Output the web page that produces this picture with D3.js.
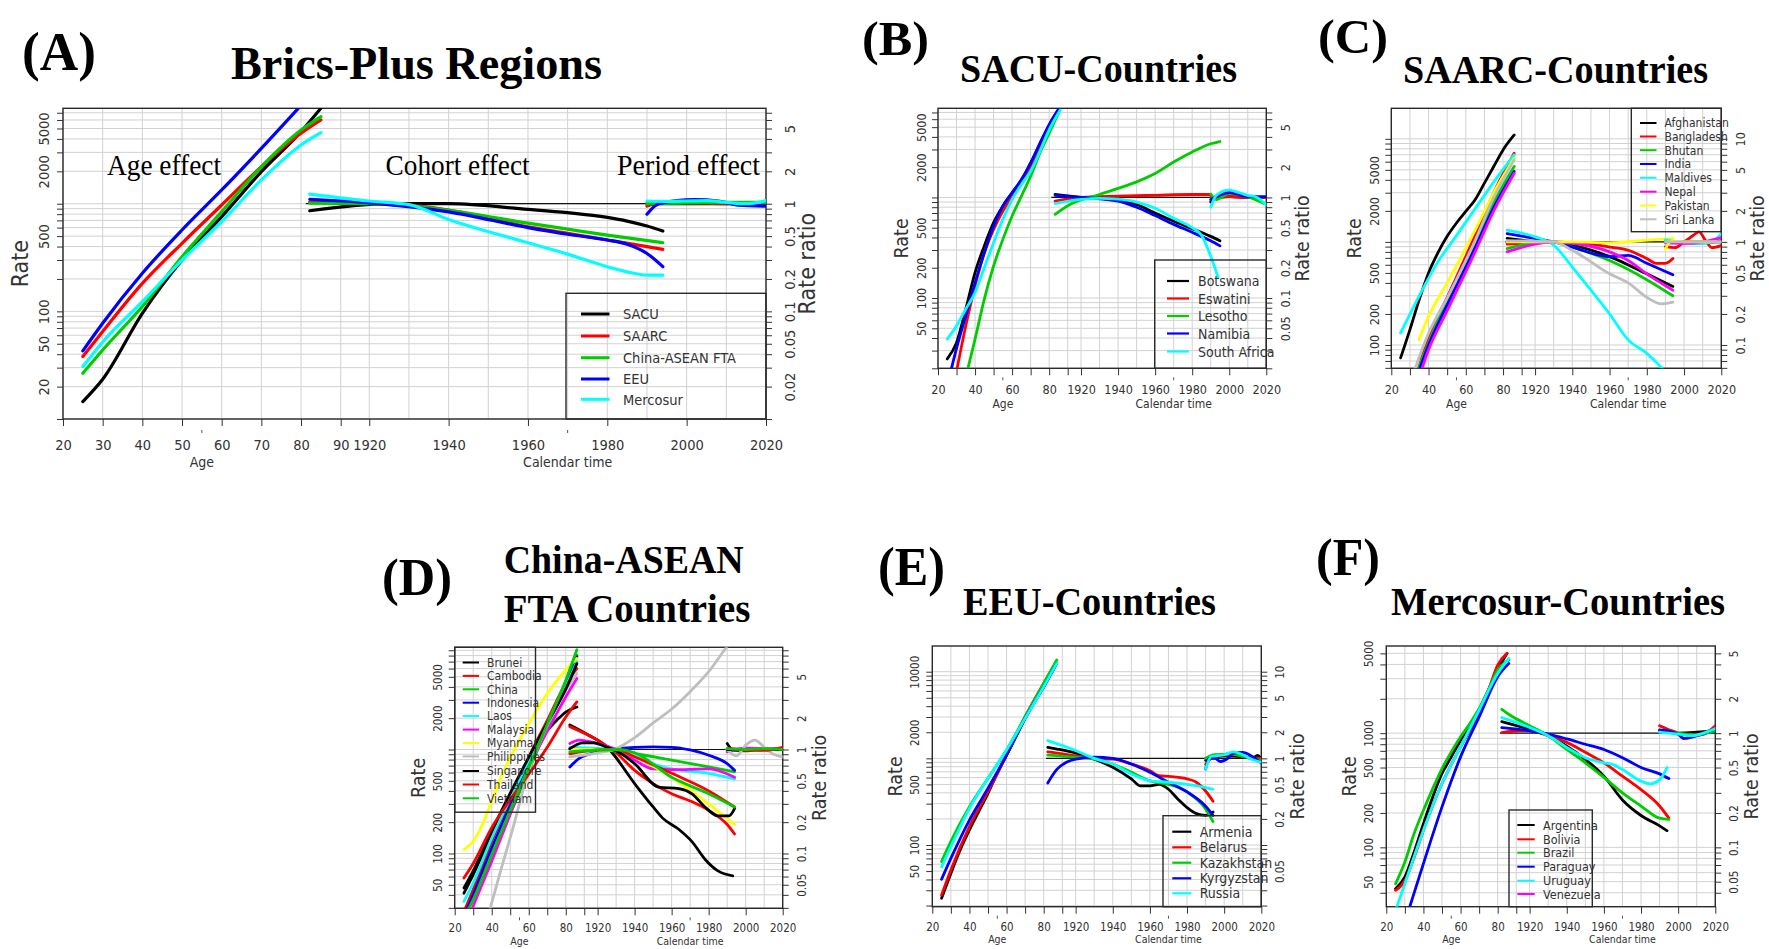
<!DOCTYPE html>
<html><head><meta charset="utf-8">
<script src="https://cdn.jsdelivr.net/npm/d3@7"></script>
<style>
html,body{margin:0;padding:0;background:#fff;}
svg{display:block;}
</style></head><body>
<svg id="chart" width="1769" height="949"></svg>
<script>
// ---------------- DATA ----------------
const CAL_OFFSET = 1822.8;           // calendar year -> shared x unit
const RATIO_DIV = 1000;               // rate ratio = rate / 1000 on right axis

const calTicks = [1920, 1940, 1960, 1980, 2000, 2020];
const ageTicks = [20, 30, 40, 50, 60, 70, 80, 90];
const ageLabelsAll = [20, 30, 40, 50, 60, 70, 80, 90];
const ageLabelsEven = [20, 40, 60, 80];

// (A) Brics-Plus Regions
const A_names = ["SACU", "SAARC", "China-ASEAN FTA", "EEU", "Mercosur"];
const A_age = [
  [[25,14.5],[30,23.4],[40,96],[50,300],[60,759],[70,1986],[80,4670],[85,7700]],
  [[25,38],[30,65],[40,182],[50,429],[60,973],[70,2209],[80,4510],[85,6000]],
  [[25,26.6],[30,43.8],[40,111],[50,322],[60,844],[70,2209],[80,4840],[85,6440]],
  [[25,42.9],[30,77.5],[40,226],[50,570],[60,1342],[70,3270],[80,8200]],
  [[25,30.7],[30,52],[40,123],[50,300],[60,682],[70,1663],[80,3515],[85,4570]]
];
const A_cohort = [
  [[1905,0.86],[1915,0.95],[1925,1.0],[1940,1.0],[1960,0.886],[1970,0.825],[1980,0.746],[1985,0.69],[1990,0.62],[1994,0.557]],
  [[1905,1.04],[1925,1.0],[1940,0.873],[1960,0.61],[1970,0.53],[1980,0.46],[1990,0.40],[1994,0.377]],
  [[1905,1.01],[1920,1.0],[1940,0.87],[1960,0.66],[1970,0.58],[1980,0.51],[1994,0.434]],
  [[1905,1.1],[1920,1.02],[1940,0.84],[1960,0.60],[1970,0.52],[1980,0.46],[1985,0.42],[1990,0.345],[1994,0.26]],
  [[1905,1.23],[1920,1.06],[1930,0.98],[1940,0.715],[1960,0.434],[1970,0.34],[1980,0.26],[1985,0.233],[1990,0.217],[1994,0.217]]
];
const A_period = [
  [[1990,1.0],[2005,1.0],[2020,1.0]],
  [[1990,0.95],[1992,1.0],[2000,1.02],[2010,1.0],[2020,1.0]],
  [[1990,1.0],[2000,1.02],[2010,1.03],[2020,1.03]],
  [[1990,0.8],[1993,1.0],[2002,1.09],[2008,1.06],[2013,0.97],[2020,0.95]],
  [[1990,1.06],[1995,1.05],[2000,1.06],[2005,1.07],[2010,1.03],[2015,1.0],[2020,1.07]]
];
const A_leftLabels = [20, 50, 100, 500, 2000, 5000];
const A_rightLabels = [0.02, 0.05, 0.1, 0.2, 0.5, 1, 2, 5];

// (B) SACU-Countries
const B_names = ["Botswana", "Eswatini", "Lesotho", "Namibia", "South Africa"];
const B_age = [
  [[25,24.8],[30,36],[35,77.6],[40,179],[45,330],[50,561],[55,820],[60,1112],[65,1482],[70,2200],[75,3342],[80,5270],[86,8000]],
  [[29,15],[35,53],[40,132],[45,282],[50,482],[55,731],[60,1030],[65,1395],[70,2040],[75,3096],[80,4886],[85,7400]],
  [[34.5,15],[40,39],[45,97.6],[50,208],[55,383],[60,653],[65,1030],[70,1624],[75,2765],[80,4360],[85,6880]],
  [[26,16],[30,31.5],[35,66.7],[40,142],[45,282],[50,520],[55,820],[60,1112],[65,1505],[70,2200],[75,3475],[80,5270],[86,8000]],
  [[25,39],[30,53],[35,77.6],[40,113],[45,201],[50,355],[55,605],[60,954],[65,1343],[70,1820],[75,2870],[80,4700],[86,7400]]
];
const B_cohort = [
  [[1906,1.07],[1920,1.0],[1940,0.94],[1950,0.85],[1960,0.7],[1970,0.58],[1980,0.49],[1990,0.41],[1995,0.37]],
  [[1906,0.92],[1920,1.0],[1940,1.03],[1960,1.05],[1980,1.07],[1990,1.07]],
  [[1906,0.68],[1915,0.87],[1930,1.07],[1940,1.23],[1950,1.43],[1960,1.73],[1970,2.25],[1980,2.83],[1990,3.42],[1995,3.6]],
  [[1906,1.05],[1920,1.0],[1940,0.92],[1950,0.8],[1960,0.66],[1970,0.54],[1980,0.45],[1990,0.37],[1995,0.33]],
  [[1906,0.87],[1920,0.955],[1930,0.98],[1940,0.96],[1950,0.9],[1960,0.78],[1970,0.62],[1980,0.5],[1985,0.42],[1990,0.26],[1994,0.16]]
];
const B_period = [
  [[1990,0.9],[1992,0.97],[2000,1.02],[2010,1.0],[2020,1.0]],
  [[1990,1.0],[2000,1.02],[2010,1.0],[2020,1.0]],
  [[1990,1.08],[1993,0.95],[2000,1.1],[2010,1.02],[2020,0.85]],
  [[1990,0.95],[2000,1.12],[2010,1.02],[2020,1.02]],
  [[1990,0.8],[1993,1.05],[2000,1.18],[2005,1.12],[2010,1.05],[2015,1.0],[2020,0.84]]
];
const B_leftLabels = [50, 100, 200, 500, 2000, 5000];
const B_rightLabels = [0.05, 0.1, 0.2, 0.5, 1, 2, 5];

// (C) SAARC-Countries
const C_names = ["Afghanistan", "Bangladesh", "Bhutan", "India", "Maldives", "Nepal", "Pakistan", "Sri Lanka"];
const C_age = [
  [[25,75],[30,141],[35,276],[40,500],[45,782],[50,1132],[55,1524],[60,1977],[65,2563],[70,3715],[75,5385],[80,7810],[86,10900]],
  [[32,40],[40,120],[50,290],[65,1150],[75,3000],[86,7250]],
  [[31,40],[40,105],[50,270],[65,980],[75,2400],[86,5385]],
  [[32,40],[40,100],[50,245],[65,880],[75,2150],[86,4815]],
  [[25,131],[35,300],[45,640],[55,1150],[65,2100],[75,3800],[86,6980]],
  [[33.5,40],[40,90],[50,215],[65,800],[75,2000],[86,4640]],
  [[34.8,112],[40,190],[50,400],[65,1300],[75,3000],[86,6480]],
  [[29.5,40],[40,130],[50,285],[65,1030],[75,2700],[86,6250]]
];
const C_cohort = [
  [[1905,1.08],[1920,1.01],[1930,1.0],[1940,0.93],[1960,0.72],[1980,0.49],[1994,0.37]],
  [[1905,0.95],[1920,0.98],[1930,1.0],[1940,0.98],[1950,0.95],[1960,0.89],[1970,0.83],[1980,0.69],[1985,0.62],[1990,0.62],[1994,0.69]],
  [[1905,0.86],[1920,0.98],[1930,1.0],[1940,0.89],[1960,0.66],[1980,0.43],[1994,0.30]],
  [[1905,1.2],[1920,1.08],[1930,1.0],[1940,0.89],[1960,0.72],[1970,0.74],[1980,0.62],[1994,0.48]],
  [[1905,1.30],[1920,1.12],[1930,0.93],[1940,0.57],[1950,0.34],[1960,0.20],[1970,0.112],[1980,0.083],[1988,0.06],[1994,0.045]],
  [[1905,0.80],[1920,0.95],[1930,1.0],[1940,0.97],[1960,0.80],[1970,0.66],[1980,0.49],[1994,0.34]],
  [[1905,1.0],[1940,1.0],[1960,0.98],[1980,1.04],[1994,1.08]],
  [[1905,1.03],[1930,1.0],[1940,0.83],[1960,0.49],[1970,0.40],[1980,0.29],[1988,0.25],[1994,0.26]]
];
const C_period = [
  [[1990,1.0],[2005,1.0],[2020,1.0]],
  [[1990,0.9],[1995,0.88],[2000,1.0],[2005,1.16],[2008,1.25],[2012,1.0],[2015,0.88],[2020,0.92]],
  [[1990,1.0],[2005,1.0],[2020,1.0]],
  [[1990,1.0],[2005,0.97],[2020,1.02]],
  [[1990,1.05],[2000,0.98],[2010,0.97],[2015,1.0],[2020,1.2]],
  [[1990,0.98],[2000,0.97],[2010,1.0],[2020,1.1]],
  [[1990,0.85],[1993,1.02],[2000,1.0],[2020,1.0]],
  [[1990,1.0],[2005,1.0],[2020,1.0]]
];
const C_leftLabels = [100, 200, 500, 2000, 5000];
const C_rightLabels = [0.1, 0.2, 0.5, 1, 2, 5, 10];

// (D) China-ASEAN FTA Countries
const D_names = ["Brunei", "Cambodia", "China", "Indonesia", "Laos", "Malaysia", "Myanmar", "Philippines", "Singapore", "Thailand", "Vietnam"];
const D_age = [
  [[25,41.5],[30,62.5],[35,97.6],[40,152],[45,221],[50,345],[55,539],[60,782],[65,1132],[70,1524],[75,1905],[80,2290],[86,2563]],
  [[24,25],[30,45],[40,131],[50,330],[60,841],[70,1900],[80,4300],[86,6000]],
  [[26,25],[30,38],[40,90],[50,240],[60,625],[70,1650],[80,4300],[86,8100]],
  [[25,25],[30,40],[40,112],[50,290],[60,724],[70,1750],[80,4010],[86,7810]],
  [[25,34.6],[30,52],[40,141],[50,340],[60,782],[70,1800],[80,4010],[86,7000]],
  [[28,25],[30,31],[40,84],[50,240],[60,673],[70,1500],[80,3200],[86,4815]],
  [[25,109],[30,131],[35,190],[40,320],[45,539],[50,841],[60,1767],[70,3450],[80,5810],[86,7520]],
  [[38,25],[45,70],[51,164],[60,625],[70,1700],[80,3700],[86,5385]],
  [[25,46.6],[30,68],[40,164],[50,380],[60,841],[70,1800],[80,3800],[86,6700]],
  [[25,58],[30,80],[40,177],[50,330],[60,580],[70,1050],[80,2050],[86,2870]],
  [[25,24],[30,36],[40,97.6],[50,260],[60,673],[70,1750],[80,4640],[86,9100]]
];
const D_cohort = [
  [[1905,1.72],[1915,1.38],[1925,1.06],[1940,0.47],[1950,0.28],[1955,0.22],[1964,0.17],[1971,0.13],[1978,0.088],[1985,0.068],[1993,0.061]],
  [[1905,1.66],[1920,1.23],[1930,0.93],[1940,0.63],[1950,0.47],[1960,0.375],[1970,0.32],[1980,0.26],[1990,0.19],[1994,0.154]],
  [[1905,1.0],[1920,1.0],[1940,0.91],[1960,0.79],[1980,0.68],[1994,0.61]],
  [[1905,0.68],[1910,0.82],[1920,0.95],[1930,1.02],[1950,1.06],[1960,1.05],[1970,0.99],[1980,0.88],[1990,0.73],[1994,0.63]],
  [[1905,1.05],[1930,1.0],[1940,0.91],[1950,0.73],[1960,0.65],[1980,0.59],[1994,0.52]],
  [[1905,1.14],[1910,1.23],[1920,1.14],[1930,1.0],[1940,0.79],[1950,0.65],[1960,0.64],[1980,0.65],[1994,0.54]],
  [[1905,1.0],[1930,1.0],[1940,0.85],[1960,0.54],[1980,0.30],[1994,0.19]],
  [[1905,0.85],[1920,0.93],[1930,1.02],[1940,1.3],[1950,1.8],[1960,2.45],[1970,3.6],[1980,5.6],[1990,9.8],[1994,12]],
  [[1905,1.02],[1912,1.16],[1918,1.16],[1925,1.05],[1930,0.97],[1940,0.73],[1953,0.435],[1964,0.42],[1971,0.375],[1978,0.28],[1985,0.23],[1991,0.23],[1994,0.27]],
  [[1905,0.91],[1920,0.99],[1930,1.0],[1940,0.85],[1960,0.59],[1980,0.40],[1994,0.28]],
  [[1905,0.95],[1930,1.0],[1940,0.93],[1960,0.54],[1980,0.375],[1994,0.28]]
];
const D_period = [
  [[1990,1.14],[1993,1.0],[2000,1.0],[2020,1.0]],
  [[1990,1.0],[2000,0.97],[2010,1.0],[2020,1.03]],
  [[1990,1.0],[2005,1.0],[2020,1.0]],
  [[1990,0.98],[2005,1.0],[2020,1.0]],
  [[1990,1.0],[2005,1.0],[2020,1.0]],
  [[1990,0.95],[2000,1.03],[2020,1.0]],
  [[1990,1.0],[2005,1.0],[2020,1.0]],
  [[1990,1.0],[1995,0.87],[2000,1.1],[2005,1.23],[2010,1.05],[2015,0.9],[2020,0.85]],
  [[1990,1.0],[2005,1.0],[2020,1.0]],
  [[1990,1.02],[2000,1.0],[2010,0.98],[2020,1.05]],
  [[1990,1.02],[2000,1.0],[2010,1.02],[2020,1.0]]
];
const D_leftLabels = [50, 100, 200, 500, 2000, 5000];
const D_rightLabels = [0.05, 0.1, 0.2, 0.5, 1, 2, 5];

// (E) EEU-Countries
const E_names = ["Armenia", "Belarus", "Kazakhstan", "Kyrgyzstan", "Russia"];
const E_age = [
  [[25,24.3],[30,47],[35,87.5],[40,149],[45,243],[50,395],[55,671],[60,1092],[65,1778],[70,2895],[75,4508],[80,6710],[86,11430]],
  [[25,26.5],[30,51.6],[40,163],[50,412],[60,1092],[70,3030],[80,7340],[86,11950]],
  [[25,64.4],[30,110],[40,277],[50,588],[60,1248],[70,3030],[80,7340],[87,13630]],
  [[25,40.2],[30,70],[40,194],[50,451],[60,1092],[70,2895],[80,6710],[87,12480]],
  [[25,56],[30,95.6],[40,265],[50,588],[60,1248],[70,2895],[80,6710],[87,12480]]
];
const E_cohort = [
  [[1905,1.34],[1910,1.28],[1920,1.15],[1930,0.98],[1940,0.79],[1950,0.58],[1955,0.48],[1960,0.48],[1965,0.5],[1970,0.44],[1975,0.34],[1980,0.27],[1985,0.23],[1990,0.22],[1994,0.24]],
  [[1905,1.19],[1920,1.07],[1930,1.0],[1940,0.98],[1950,0.86],[1960,0.72],[1965,0.63],[1970,0.62],[1980,0.58],[1985,0.53],[1990,0.42],[1994,0.32]],
  [[1905,1.09],[1920,1.03],[1930,0.98],[1940,0.86],[1950,0.69],[1960,0.55],[1970,0.5],[1980,0.41],[1990,0.26],[1994,0.186]],
  [[1905,0.52],[1910,0.75],[1915,0.9],[1920,0.98],[1930,1.03],[1940,1.0],[1950,0.86],[1960,0.69],[1970,0.53],[1980,0.41],[1990,0.28],[1994,0.22]],
  [[1905,1.6],[1920,1.23],[1930,1.0],[1940,0.86],[1950,0.66],[1960,0.55],[1970,0.53],[1980,0.5],[1990,0.46],[1994,0.44]]
];
const E_period = [
  [[1990,0.95],[2000,1.07],[2010,1.05],[2015,1.0],[2018,1.08],[2020,1.0]],
  [[1990,0.85],[1995,1.07],[2005,1.1],[2010,1.05],[2020,1.0]],
  [[1990,1.0],[1995,1.1],[2005,1.12],[2010,1.05],[2020,0.95]],
  [[1990,0.75],[1992,1.0],[1995,1.0],[1998,0.92],[2002,1.0],[2005,1.15],[2010,1.17],[2015,1.05],[2020,0.88]],
  [[1990,0.75],[1993,1.05],[2000,1.1],[2005,1.19],[2010,1.1],[2015,0.97],[2020,0.9]]
];
const E_leftLabels = [50, 100, 500, 2000, 10000];
const E_rightLabels = [0.05, 0.2, 0.5, 1, 2, 5, 10];

// (F) Mercosur-Countries
const F_names = ["Argentina", "Bolivia", "Brazil", "Paraguay", "Uruguay", "Venezuela"];
const F_age = [
  [[25,43.4],[30,55],[35,91],[40,161],[45,276],[50,443],[55,620],[60,868],[65,1137],[70,1592],[75,2385],[80,3570],[85,5000]],
  [[25,42],[30,51],[35,82],[40,141],[50,362],[60,759],[70,1538],[75,2385],[80,3950],[85,5000]],
  [[25,48],[30,74.5],[35,132],[40,211],[45,327],[50,490],[55,686],[60,929],[65,1216],[70,1648],[75,2385],[80,3570],[86,4370]],
  [[32,28],[40,72],[50,226],[60,620],[70,1390],[80,3120],[86,4085]],
  [[25,28],[30,48],[40,141],[50,362],[60,759],[70,1592],[80,3330],[86,4520]],
  []
];
const F_cohort = [
  [[1905,1.26],[1910,1.2],[1920,1.08],[1930,0.95],[1940,0.77],[1950,0.59],[1960,0.42],[1970,0.26],[1980,0.19],[1990,0.154],[1994,0.14]],
  [[1905,1.01],[1915,1.05],[1920,1.05],[1930,0.95],[1940,0.83],[1950,0.68],[1960,0.55],[1970,0.42],[1980,0.32],[1990,0.23],[1995,0.18]],
  [[1905,1.62],[1910,1.42],[1920,1.16],[1930,0.95],[1940,0.72],[1950,0.55],[1960,0.41],[1970,0.30],[1980,0.23],[1990,0.18],[1995,0.176]],
  [[1905,1.12],[1920,1.05],[1930,0.98],[1940,0.89],[1950,0.80],[1960,0.72],[1970,0.61],[1980,0.5],[1990,0.44],[1995,0.40]],
  [[1905,1.37],[1920,1.12],[1930,0.95],[1940,0.75],[1950,0.61],[1960,0.55],[1965,0.53],[1970,0.48],[1980,0.38],[1985,0.36],[1990,0.39],[1994,0.5]],
  []
];
const F_period = [
  [[1990,1.05],[2000,1.0],[2020,1.05]],
  [[1990,1.16],[1995,1.07],[2000,1.0],[2003,0.9],[2010,0.95],[2015,1.0],[2020,1.16]],
  [[1990,1.05],[2000,1.0],[2010,0.97],[2020,1.05]],
  [[1990,1.07],[2000,0.98],[2003,0.9],[2010,0.95],[2015,1.02],[2020,1.1]],
  [[1990,1.02],[1995,1.0],[2000,0.98],[2008,0.95],[2015,1.02],[2020,1.1]],
  []
];
const F_leftLabels = [50, 100, 200, 500, 1000, 5000];
const F_rightLabels = [0.05, 0.1, 0.2, 0.5, 1, 2, 5];

// ---------------- STYLE / LAYOUT ----------------
const RPAL = ["#000000","#FF0000","#00CD00","#0000FF","#00FFFF","#FF00FF","#FFFF00","#BEBEBE"];
const SANS = '"Liberation Sans Narrow","Arial Narrow","DejaVu Sans Condensed","Liberation Sans",Arial,sans-serif';
const SERIF = '"Liberation Serif","Times New Roman",Times,serif';

const PANELS = [
  {L:63, R:766, T:108.3, B:419, yMin:10, yMax:7700, big:true, tickFs:14.5, tickGap:26, titleGap:43, titleFs:14,
   names:A_names, age:A_age, cohort:A_cohort, period:A_period, leftLab:A_leftLabels, rightLab:A_rightLabels, ageLab:ageLabelsAll,
   tag:{t:"(A)", x:22, y:69.5, fs:55, w:74},
   titles:[{t:"Brics-Plus Regions", x:231, y:79.3, fs:46, w:371}],
   legend:{x0:566, y0:293.3, x1:766, y1:419, ys:[314,336,357.7,379,399.3], lx0:581, lx1:609.5, tx:623, fs:14.5, lw:3}},
  {L:938, R:1266.3, T:108.3, B:368.3, yMin:20, yMax:7700, tickFs:12.5, tickGap:21.5, titleGap:35, titleFs:12,
   names:B_names, age:B_age, cohort:B_cohort, period:B_period, leftLab:B_leftLabels, rightLab:B_rightLabels, ageLab:ageLabelsEven,
   tag:{t:"(B)", x:862, y:55, fs:48, w:67},
   titles:[{t:"SACU-Countries", x:960, y:81.7, fs:40, w:277}],
   legend:{x0:1154.7, y0:260, x1:1266.3, y1:368.3, ys:[281,298.5,316,333.5,351.5], lx0:1167, lx1:1189, tx:1198, fs:14, lw:2.2}},
  {L:1391.3, R:1721.3, T:108.3, B:368.3, yMin:59.4, yMax:19770, tickFs:12.5, tickGap:21.5, titleGap:35, titleFs:12,
   names:C_names, age:C_age, cohort:C_cohort, period:C_period, leftLab:C_leftLabels, rightLab:C_rightLabels, ageLab:ageLabelsEven,
   tag:{t:"(C)", x:1318, y:53, fs:48, w:70},
   titles:[{t:"SAARC-Countries", x:1403, y:83.3, fs:40, w:305}],
   legend:{x0:1631.3, y0:108.3, x1:1721.3, y1:231.7, ys:[123,136.5,150.2,164,177.8,191.7,205.5,219.3], lx0:1640, lx1:1656.5, tx:1664.5, fs:12, lw:2}},
  {L:454.7, R:782.7, T:647.3, B:908.3, yMin:29.7, yMax:9610, tickFs:11.5, tickGap:19.5, titleGap:32.5, titleFs:10.5,
   names:D_names, age:D_age, cohort:D_cohort, period:D_period, leftLab:D_leftLabels, rightLab:D_rightLabels, ageLab:ageLabelsEven,
   tag:{t:"(D)", x:382, y:595, fs:52, w:70},
   titles:[{t:"China-ASEAN", x:503.7, y:573.3, fs:40, w:240},{t:"FTA Countries", x:503.7, y:621.7, fs:40, w:246.6}],
   legend:{x0:454.7, y0:647.3, x1:535.5, y1:812.2, ys:[662.5,675.9,689.3,702.7,716.1,729.6,743,756.4,771,784.5,798.3], lx0:462.7, lx1:479, tx:487, fs:12, lw:2}},
  {L:932.3, R:1261.3, T:646, B:906.7, yMin:19.4, yMax:19800, tickFs:11.5, tickGap:20, titleGap:33, titleFs:10.5,
   names:E_names, age:E_age, cohort:E_cohort, period:E_period, leftLab:E_leftLabels, rightLab:E_rightLabels, ageLab:ageLabelsEven,
   tag:{t:"(E)", x:878, y:585, fs:54, w:67},
   titles:[{t:"EEU-Countries", x:963, y:615, fs:40, w:253}],
   legend:{x0:1163, y0:815.7, x1:1261.3, y1:906.7, ys:[831.7,847.3,862.7,878.3,893.3], lx0:1172.3, lx1:1191.3, tx:1199.7, fs:14, lw:2.2}},
  {L:1386.3, R:1715.3, T:646, B:906.7, yMin:30.2, yMax:5800, tickFs:11.5, tickGap:20, titleGap:33, titleFs:10.5,
   names:F_names, age:F_age, cohort:F_cohort, period:F_period, leftLab:F_leftLabels, rightLab:F_rightLabels, ageLab:ageLabelsEven,
   tag:{t:"(F)", x:1316, y:575, fs:53, w:64},
   titles:[{t:"Mercosur-Countries", x:1391, y:615, fs:40, w:334}],
   legend:{x0:1509, y0:810, x1:1592.3, y1:906.7, ys:[825,839.3,852.7,866.7,880.7,894], lx0:1517.3, lx1:1534.7, tx:1543, fs:12.5, lw:2}}
];

// ---------------- DRAW ----------------
const svg = d3.select("#chart");
svg.append("rect").attr("width",1769).attr("height",949).attr("fill","#fff");
const defs = svg.append("defs");
const fmt = d3.format("~g");
const X_DOMAIN = [20, 2020 - CAL_OFFSET];

function minorVals(lo, hi) {
  const out = [];
  for (let e = -3; e <= 5; e++) for (let k = 1; k <= 9; k++) {
    const v = +(k * Math.pow(10, e)).toPrecision(6);
    if (v >= lo * 0.9999 && v <= hi * 1.0001) out.push(v);
  }
  return out;
}
function inSet(v, arr) { return arr.some(t => Math.abs(Math.log10(v) - Math.log10(t)) < 1e-6); }
function vtext(g, cx, cy, str, fs, fill) {
  g.append("text").attr("transform", `translate(${cx + fs*0.36},${cy}) rotate(-90)`)
    .attr("text-anchor","middle").attr("font-family",SANS).attr("font-size",fs).attr("fill",fill||"#222").text(str);
}

PANELS.forEach((p, pi) => {
  const g = svg.append("g");
  const x = d3.scaleLinear().domain(X_DOMAIN).range([p.L, p.R]);
  const xc = yr => x(yr - CAL_OFFSET);
  const y = d3.scaleLog().domain([p.yMin, p.yMax]).range([p.B, p.T]);
  const yR = d3.scaleLog().domain([p.yMin / RATIO_DIV, p.yMax / RATIO_DIV]).range([p.B, p.T]);
  const gridY = minorVals(p.yMin, p.yMax);
  const gridR = minorVals(p.yMin / RATIO_DIV, p.yMax / RATIO_DIV);
  const ageGrid = d3.range(20, 91, 10);
  const calGrid = d3.range(1920, 2021, 10);
  const tfs = p.tickFs;

  // grid
  const grid = g.append("g").attr("stroke","#d2d2d2").attr("stroke-width",1);
  grid.selectAll("line.gy").data(gridY).join("line").attr("class","gy")
    .attr("x1",p.L).attr("x2",p.R).attr("y1",d=>y(d)).attr("y2",d=>y(d));
  grid.selectAll("line.ga").data(ageGrid).join("line").attr("class","ga")
    .attr("x1",d=>x(d)).attr("x2",d=>x(d)).attr("y1",p.T).attr("y2",p.B);
  grid.selectAll("line.gc").data(calGrid).join("line").attr("class","gc")
    .attr("x1",d=>xc(d)).attr("x2",d=>xc(d)).attr("y1",p.T).attr("y2",p.B);

  // left axis
  const capL = tfs * 0.36;
  const leftOff = p.big ? 19 : 17;
  const la = g.append("g").attr("transform",`translate(${p.L},0)`)
    .call(d3.axisLeft(y).tickValues(gridY).tickSize(6).tickFormat(d => inSet(d, p.leftLab) ? fmt(d) : ""));
  la.select(".domain").remove();
  la.selectAll("line").attr("stroke","#333");
  la.attr("font-family",SANS).attr("font-size",tfs);
  la.selectAll("text").attr("x",null).attr("dy",null).attr("fill","#333").attr("text-anchor","middle")
    .attr("transform",`translate(${-leftOff + capL},0) rotate(-90)`);

  // right axis
  const rightOff = p.big ? 24 : 19;
  const ra = g.append("g").attr("transform",`translate(${p.R},0)`)
    .call(d3.axisRight(yR).tickValues(gridR).tickSize(6).tickFormat(d => inSet(d, p.rightLab) ? fmt(d) : ""));
  ra.select(".domain").remove();
  ra.selectAll("line").attr("stroke","#333");
  ra.attr("font-family",SANS).attr("font-size",tfs);
  ra.selectAll("text").attr("x",null).attr("dy",null).attr("fill","#333").attr("text-anchor","middle")
    .attr("transform",`translate(${rightOff + capL},0) rotate(-90)`);

  // bottom axis
  const xTickVals = ageTicks.concat(calTicks.map(c => c - CAL_OFFSET));
  const ba = g.append("g").attr("transform",`translate(0,${p.B})`)
    .call(d3.axisBottom(x).tickValues(xTickVals).tickSize(7)
      .tickFormat(d => d < 95 ? (p.ageLab.includes(d) ? String(d) : "") : String(Math.round(d + CAL_OFFSET))));
  ba.select(".domain").remove();
  ba.selectAll("line").attr("stroke","#333");
  ba.attr("font-family",SANS).attr("font-size",tfs);
  ba.selectAll("text").attr("fill","#333").attr("dy",null).attr("y", p.tickGap + tfs*0.36);
  // small marks under axis
  g.selectAll("line.mk").data([x(55), xc(1970)]).join("line").attr("class","mk")
    .attr("x1",d=>d).attr("x2",d=>d).attr("y1",p.B+ (p.big?11:9)).attr("y2",p.B+(p.big?14:12))
    .attr("stroke","#555").attr("stroke-width",1);

  // axis titles
  const afs = p.titleFs;
  const tGap = p.titleGap;
  g.append("text").attr("x",x(55)).attr("y",p.B+tGap+afs*0.36).attr("text-anchor","middle")
    .attr("font-family",SANS).attr("font-size",afs).attr("fill","#333").text("Age");
  g.append("text").attr("x",xc(1970)).attr("y",p.B+tGap+afs*0.36).attr("text-anchor","middle")
    .attr("font-family",SANS).attr("font-size",afs).attr("fill","#333").text("Calendar time");
  const rfs = p.big ? 23 : 19.5;
  const midY = (p.T + p.B) / 2;
  vtext(g, p.big ? 20 : p.L - 37, midY, "Rate", rfs, "#333");
  vtext(g, p.big ? p.R + 41 : p.R + 36, midY, "Rate ratio", rfs, "#333");

  // frame
  g.append("rect").attr("x",p.L).attr("y",p.T).attr("width",p.R-p.L).attr("height",p.B-p.T)
    .attr("fill","none").attr("stroke","#2a2a2a").attr("stroke-width",1.4);

  // reference line RR = 1
  g.append("line").attr("x1",xc(1904)).attr("x2",p.R).attr("y1",yR(1)).attr("y2",yR(1))
    .attr("stroke","#111").attr("stroke-width",1.2);

  // curves
  const cid = "clip" + pi;
  defs.append("clipPath").attr("id",cid).append("rect")
    .attr("x",p.L).attr("y",p.T).attr("width",p.R-p.L).attr("height",p.B-p.T);
  const cg = g.append("g").attr("clip-path",`url(#${cid})`).attr("fill","none")
    .attr("stroke-width", p.big ? 3.2 : 2.8).attr("stroke-linejoin","round").attr("stroke-linecap","round");
  const lineAge = d3.line().x(d => x(d[0])).y(d => y(d[1])).curve(d3.curveMonotoneX);
  const lineCal = d3.line().x(d => xc(d[0])).y(d => yR(d[1])).curve(d3.curveMonotoneX);
  p.age.forEach((s,i) => { if (s.length > 1) cg.append("path").attr("d", lineAge(s)).attr("stroke", RPAL[i % 8]); });
  p.cohort.forEach((s,i) => { if (s.length > 1) cg.append("path").attr("d", lineCal(s)).attr("stroke", RPAL[i % 8]); });
  p.period.forEach((s,i) => { if (s.length > 1) cg.append("path").attr("d", lineCal(s)).attr("stroke", RPAL[i % 8]); });

  // legend
  const lg = p.legend;
  g.append("rect").attr("x",lg.x0).attr("y",lg.y0).attr("width",lg.x1-lg.x0).attr("height",lg.y1-lg.y0)
    .attr("fill","none").attr("stroke","#2a2a2a").attr("stroke-width",1.4);
  const items = g.append("g").selectAll("g").data(p.names).join("g");
  items.append("line").attr("x1",lg.lx0).attr("x2",lg.lx1).attr("y1",(d,i)=>lg.ys[i]).attr("y2",(d,i)=>lg.ys[i])
    .attr("stroke",(d,i)=>RPAL[i % 8]).attr("stroke-width",lg.lw);
  items.append("text").attr("x",lg.tx).attr("y",(d,i)=>lg.ys[i] + lg.fs*0.36)
    .attr("font-family",SANS).attr("font-size",lg.fs).attr("fill","#333").text(d=>d);

  // panel tag & titles
  g.append("text").attr("x",p.tag.x).attr("y",p.tag.y).attr("font-family",SERIF).attr("font-weight","bold")
    .attr("font-size",p.tag.fs).attr("textLength",p.tag.w).attr("lengthAdjust","spacingAndGlyphs").text(p.tag.t);
  p.titles.forEach(t => {
    g.append("text").attr("x",t.x).attr("y",t.y).attr("font-family",SERIF).attr("font-weight","bold")
      .attr("font-size",t.fs).attr("textLength",t.w).attr("lengthAdjust","spacingAndGlyphs").text(t.t);
  });

  if (p.big) {
    const ann = [["Age effect",107,114],["Cohort effect",385.6,144],["Period effect",617,143]];
    g.selectAll("text.ann").data(ann).join("text").attr("class","ann")
      .attr("x",d=>d[1]).attr("y",175).attr("font-family",SERIF).attr("font-size",29)
      .attr("textLength",d=>d[2]).attr("lengthAdjust","spacingAndGlyphs").text(d=>d[0]);
  }
});
</script></body></html>
